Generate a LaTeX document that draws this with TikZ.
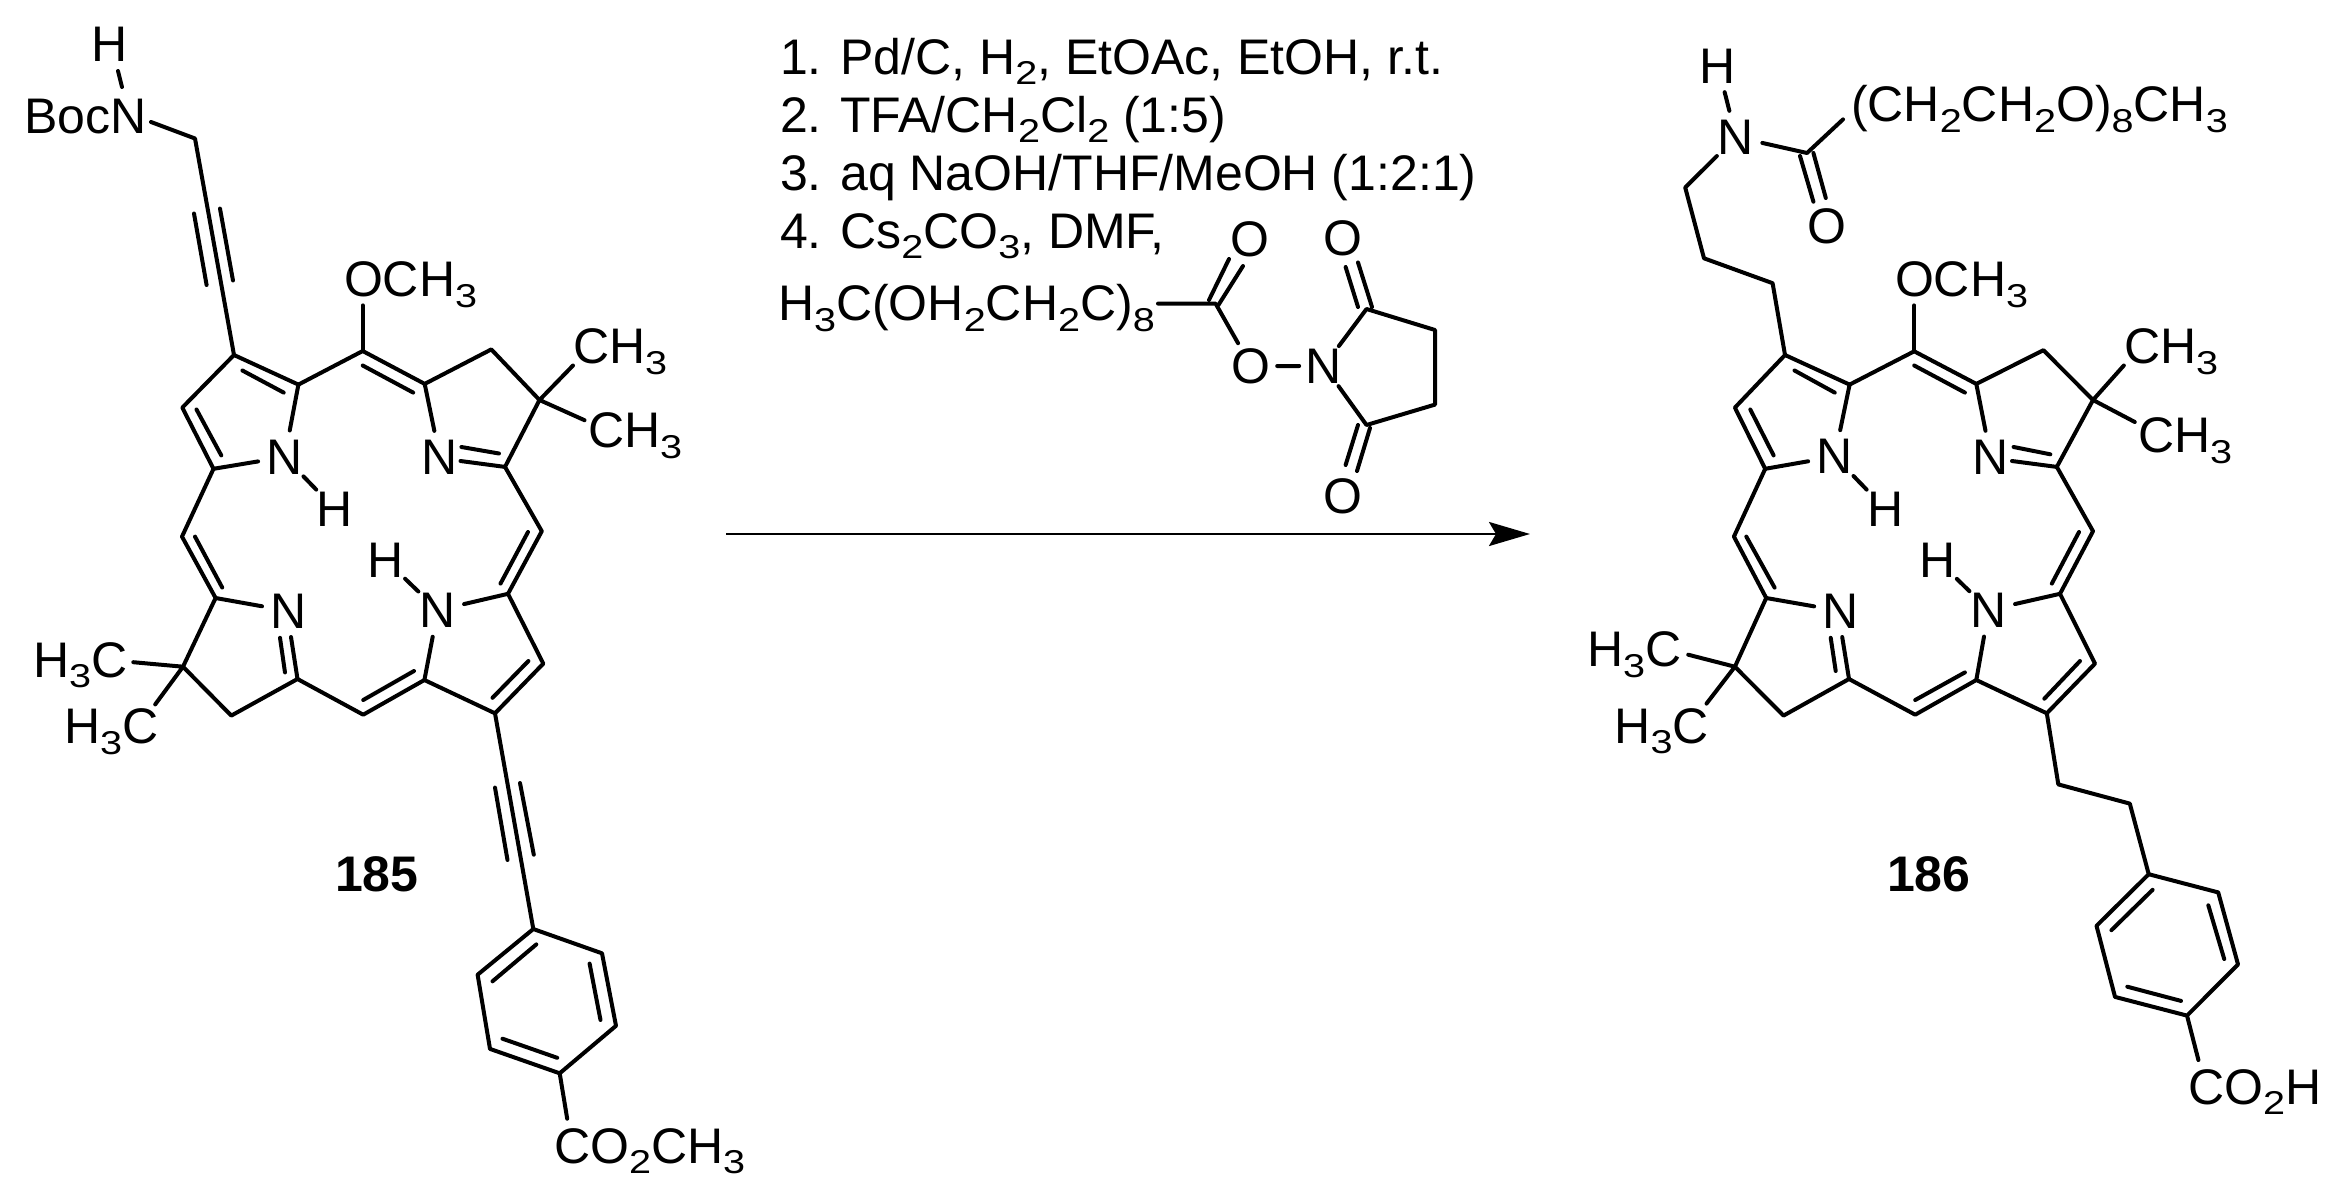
\documentclass[tikz,border=0pt]{standalone}
\usepackage{fontspec}
\usepackage{graphicx}
\setmainfont{Liberation Sans}
\usetikzlibrary{arrows.meta}
\newcommand{\chemsub}[1]{\raisebox{-10.5pt}{\scalebox{1.2}[1]{\fontsize{33}{33}\selectfont #1}}}
\tikzset{
  bond/.style={line width=4pt,line cap=round,line join=round,black},
  lbl/.style={inner sep=0pt,outer sep=0pt,anchor=base west,font=\fontsize{50}{58}\selectfont,text=black},
  atom/.style={circle,inner sep=0pt,outer sep=0pt,minimum size=54pt,font=\fontsize{50}{58}\selectfont,text=black},
  cmpd/.style={inner sep=0pt,outer sep=0pt,anchor=base west,font=\fontsize{50}{58}\selectfont\bfseries,text=black},
  rxn/.style={line width=2.8pt,black,-{Stealth[length=41pt,width=24pt,inset=7pt]}}
}
\begin{document}
\begin{tikzpicture}[x=1pt,y=-1pt]
\useasboundingbox (0,0) rectangle (2339,1197);
\fill[white] (0,0) rectangle (2339,1197);

%% ---------- compound 185 ----------
\node[atom] (lHt) at (110,44) {H};
\node[lbl] (lBoc) at (24,133) {BocN};
\coordinate (lNu) at (122,87); \coordinate (lHu) at (118,71);
\coordinate (lNr) at (151,122);
\coordinate (lch) at (195,138.5);
\coordinate (la1) at (234,355);
\coordinate (la2) at (298.4,384.6);
\coordinate (la3) at (213.5,468.8);
\coordinate (la4) at (182.3,407.6);
\coordinate (lmt) at (362.7,351);
\coordinate (lb1) at (424.7,383.9);
\coordinate (lb2) at (491.3,349.4);
\coordinate (lb3) at (539.5,400);
\coordinate (lb4) at (505,466.9);
\coordinate (lmr) at (541.8,531.2);
\coordinate (lml) at (182,536.6);
\coordinate (lc1) at (508,593.8);
\coordinate (lc3) at (543.3,663.6);
\coordinate (lc4) at (495,713.3);
\coordinate (le2) at (424.4,680);
\coordinate (lmb) at (363.2,714.7);
\coordinate (ld5) at (297.5,679);
\coordinate (ld4) at (231.3,715.6);
\coordinate (ld3) at (183,666.7);
\coordinate (ld2) at (215.6,598);
\coordinate (lp1) at (533.3,929);
\coordinate (lp2) at (602,953.3);
\coordinate (lp3) at (616,1025.8);
\coordinate (lp4) at (559.7,1073.3);
\coordinate (lp5) at (490,1048.9);
\coordinate (lp6) at (477.6,974.7);
\coordinate (lp7) at (567.2,1118.7);
\coordinate (lom) at (362.7,305.4);
\coordinate (lme1) at (573,365.5);
\coordinate (lme2) at (584.5,420.2);
\coordinate (lme3) at (133.3,662.2);
\coordinate (lme4) at (155.2,704.4);
\coordinate (lNbr) at (460.5,461);
\coordinate (lNdb) at (291,637);
\node[atom] (lN1) at (284.7,457) {N};
\node[atom] (lH1) at (335,509) {H};
\node[atom] (lN2) at (439.8,457.3) {N};
\node[atom] (lN3) at (288.6,611) {N};
\node[atom] (lN4) at (437.8,610.2) {N};
\node[atom] (lH4) at (385.6,560) {H};
\node[lbl] (lOMe) at (344,296.6) {OCH\chemsub{3}};
\node[lbl] (lCH3a) at (573,363.6) {CH\chemsub{3}};
\node[lbl] (lCH3b) at (588,447.8) {CH\chemsub{3}};
\node[lbl] (lCH3c) at (33,677) {H\chemsub{3}C};
\node[lbl] (lCH3d) at (64,743.6) {H\chemsub{3}C};
\node[lbl] (lEst) at (554,1163) {CO\chemsub{2}CH\chemsub{3}};
\node[cmpd] (l185) at (335,891) {185};

\draw[bond] (lHu) -- (lNu);
\draw[bond] (lNr) -- (lch) -- (la1) -- (la2) (la1) -- (la4) -- (la3);
\draw[bond] (la2) -- (lN1) (la3) -- (lN1) (lN1) -- (lH1);
\draw[bond] (la2) -- (lmt) -- (lb1) -- (lb2) -- (lb3) -- (lb4) -- (lmr) -- (lc1) -- (lc3) -- (lc4) -- (le2) -- (lmb) -- (ld5) -- (ld4) -- (ld3) -- (ld2) -- (lml) -- (la3);
\draw[bond] (lb1) -- (lN2) (lb4) -- (lNbr);
\draw[bond] (ld2) -- (lN3) (ld5) -- (lNdb);
\draw[bond] (lc1) -- (lN4) (le2) -- (lN4) (lN4) -- (lH4);
\draw[bond] (lmt) -- (lom);
\draw[bond] (lb3) -- (lme1) (lb3) -- (lme2) (ld3) -- (lme3) (ld3) -- (lme4);
\draw[bond] (lc4) -- (lp1) -- (lp2) -- (lp3) -- (lp4) -- (lp5) -- (lp6) -- (lp1) (lp4) -- (lp7);
% inner strokes of double and triple bonds
\draw[bond] (194,213.5)--(206.6,285) (220,208.6)--(233,280.5);
\draw[bond] (242.4,370.5)--(283.7,392.6) (196.5,409.5)--(221.3,455.4);
\draw[bond] (362.7,365.5)--(413.2,392.6) (461.4,447)--(499,453.5);
\draw[bond] (528,532)--(500.5,583.6) (195,536.6)--(222.2,587.5);
\draw[bond] (285,672.4)--(280,637.8) (363.2,700)--(414,671) (528.4,661)--(492.5,697.8);
\draw[bond] (495,787.6)--(507.5,860) (520,783)--(533.8,854.7);
\draw[bond] (536.3,944.4)--(492.5,981.3) (589.6,963.6)--(600.5,1020) (557.2,1057.8)--(502.5,1038.7);

%% ---------- reagents ----------
\node[lbl] (rl1) at (780,74.3) {1. Pd/C, H\chemsub{2}, EtOAc, EtOH, r.t.};
\node[lbl] (rl2) at (780,132) {2. TFA/CH\chemsub{2}Cl\chemsub{2} (1:5)};
\node[lbl] (rl3) at (780,190) {3. aq NaOH/THF/MeOH (1:2:1)};
\node[lbl] (rl4) at (780,248) {4. Cs\chemsub{2}CO\chemsub{3}, DMF,};
\node[lbl] (rl5) at (778,320.7) {H\chemsub{3}C(OH\chemsub{2}CH\chemsub{2}C)\chemsub{8}};
\node[atom,minimum size=44pt] (sO1) at (1250,239) {O};
\node[atom,minimum size=44pt] (sO2) at (1251,366) {O};
\node[atom,minimum size=44pt] (sN) at (1324,366) {N};
\node[atom,minimum size=44pt] (sO3) at (1343.4,238.6) {O};
\node[atom,minimum size=44pt] (sO4) at (1343.4,496.4) {O};
\coordinate (sbeg) at (1158,303.6);
\coordinate (sc) at (1215.6,303.6);
\coordinate (sr1) at (1366.5,309);
\coordinate (sr2) at (1435,330);
\coordinate (sr3) at (1435,404.6);
\coordinate (sr4) at (1366.5,425);
\draw[bond] (sbeg) -- (sc) -- (sO2) (sO2) -- (sN);
\draw[bond] (sN) -- (sr1) -- (sr2) -- (sr3) -- (sr4) -- (sN);
\draw[bond] (1229,259)--(1209,300) (1243,266)--(1218.4,305);
\draw[bond] (1358,262.5)--(1372,307) (1345.6,267)--(1358,307);
\draw[bond] (1370,428)--(1357,471) (1358,425)--(1345.6,465);
\coordinate (arrS) at (726,534);
\coordinate (arrE) at (1530,534);
\draw[rxn] (arrS) -- (arrE);

%% ---------- compound 186 ----------
\node[atom] (rHt) at (1718,66) {H};
\node[atom] (rNt) at (1736,137) {N};
\node[atom,minimum size=44pt] (rOt) at (1826.8,225.8) {O};
\node[lbl] (rPeg) at (1851,121.7) {(CH\chemsub{2}CH\chemsub{2}O)\chemsub{8}CH\chemsub{3}};
\coordinate (rco) at (1807,153);
\coordinate (rpg) at (1843,119.4);
\coordinate (rc1) at (1685.2,187.5);
\coordinate (rc2) at (1704,258.3);
\coordinate (rc3) at (1772.6,283.2);
\coordinate (ra1) at (1785,355);
\coordinate (ra2) at (1849.6,384.6);
\coordinate (ra3) at (1765.2,468.8);
\coordinate (ra4) at (1734.9,407.6);
\coordinate (rmt) at (1914.2,351.3);
\coordinate (rb1) at (1976.3,383.9);
\coordinate (rb2) at (2043.4,350.2);
\coordinate (rb3) at (2093,400);
\coordinate (rb4) at (2056.8,466.9);
\coordinate (rmr) at (2093,531.2);
\coordinate (rml) at (1733.9,536.6);
\coordinate (rc1a) at (2060,593.8);
\coordinate (rc3a) at (2095,663.6);
\coordinate (rc4a) at (2046.8,713.3);
\coordinate (re2) at (1976.3,680);
\coordinate (rmb) at (1915.2,714.7);
\coordinate (rd5) at (1849,679);
\coordinate (rd4) at (1783.5,715.6);
\coordinate (rd3) at (1734.9,666.7);
\coordinate (rd2) at (1766.2,598);
\coordinate (rs1) at (2058.3,784.4);
\coordinate (rs2) at (2129.8,803.6);
\coordinate (rp1) at (2148.7,874.2);
\coordinate (rp2) at (2218.2,892.4);
\coordinate (rp3) at (2238,964.4);
\coordinate (rp4) at (2187,1015.6);
\coordinate (rp5) at (2115,996.9);
\coordinate (rp6) at (2096.5,925.8);
\coordinate (rp7) at (2198.4,1060);
\coordinate (rom) at (1914.2,305.4);
\coordinate (rme1) at (2123.8,365.5);
\coordinate (rme2) at (2134.8,422);
\coordinate (rme3) at (1688.2,654.7);
\coordinate (rme4) at (1706.5,703.6);
\coordinate (rNbr) at (2012,461);
\coordinate (rNdb) at (1842.2,637);
\node[atom] (rN1) at (1834.7,456.6) {N};
\node[atom] (rH1) at (1885.4,509) {H};
\node[atom] (rN2) at (1990.7,457.3) {N};
\node[atom] (rN3) at (1840.7,611) {N};
\node[atom] (rN4) at (1988.7,610) {N};
\node[atom] (rH4) at (1937.5,560) {H};
\node[lbl] (rOMe) at (1895,296.6) {OCH\chemsub{3}};
\node[lbl] (rCH3a) at (2124,363.6) {CH\chemsub{3}};
\node[lbl] (rCH3b) at (2138,452.7) {CH\chemsub{3}};
\node[lbl] (rCH3c) at (1587,666.7) {H\chemsub{3}C};
\node[lbl] (rCH3d) at (1614.6,743) {H\chemsub{3}C};
\node[lbl] (rAcid) at (2188,1104.4) {CO\chemsub{2}H};
\node[cmpd] (r186) at (1887,891) {186};

\draw[bond] (rHt) -- (rNt);
\draw[bond] (rNt) -- (rco) -- (rpg);
\draw[bond] (rNt) -- (rc1) -- (rc2) -- (rc3) -- (ra1) -- (ra2) (ra1) -- (ra4) -- (ra3);
\draw[bond] (ra2) -- (rN1) (ra3) -- (rN1) (rN1) -- (rH1);
\draw[bond] (ra2) -- (rmt) -- (rb1) -- (rb2) -- (rb3) -- (rb4) -- (rmr) -- (rc1a) -- (rc3a) -- (rc4a) -- (re2) -- (rmb) -- (rd5) -- (rd4) -- (rd3) -- (rd2) -- (rml) -- (ra3);
\draw[bond] (rb1) -- (rN2) (rb4) -- (rNbr);
\draw[bond] (rd2) -- (rN3) (rd5) -- (rNdb);
\draw[bond] (rc1a) -- (rN4) (re2) -- (rN4) (rN4) -- (rH4);
\draw[bond] (rmt) -- (rom);
\draw[bond] (rb3) -- (rme1) (rb3) -- (rme2) (rd3) -- (rme3) (rd3) -- (rme4);
\draw[bond] (rc4a) -- (rs1) -- (rs2) -- (rp1) -- (rp2) -- (rp3) -- (rp4) -- (rp5) -- (rp6) -- (rp1) (rp4) -- (rp7);
% inner strokes of double bonds
\draw[bond] (1800,156)--(1813.4,201.7) (1813.4,153)--(1825.8,198);
\draw[bond] (1794.5,370.5)--(1834.7,392.6) (1750.3,409.5)--(1773.6,455.4);
\draw[bond] (1914.2,365.5)--(1964.9,392.6) (2013.6,447)--(2050.3,454.3);
\draw[bond] (2079,532)--(2051.8,583.6) (1746.3,536.6)--(1774.6,587.6);
\draw[bond] (1835.7,671)--(1830.7,637.8) (1915.2,700)--(1964.9,672.4) (2080,661)--(2044.3,698.7);
\draw[bond] (2152.6,889.8)--(2111.4,930.2) (2208.3,905.3)--(2224.2,959) (2181,1000.9)--(2127.3,986.7);
\end{tikzpicture}
\end{document}
